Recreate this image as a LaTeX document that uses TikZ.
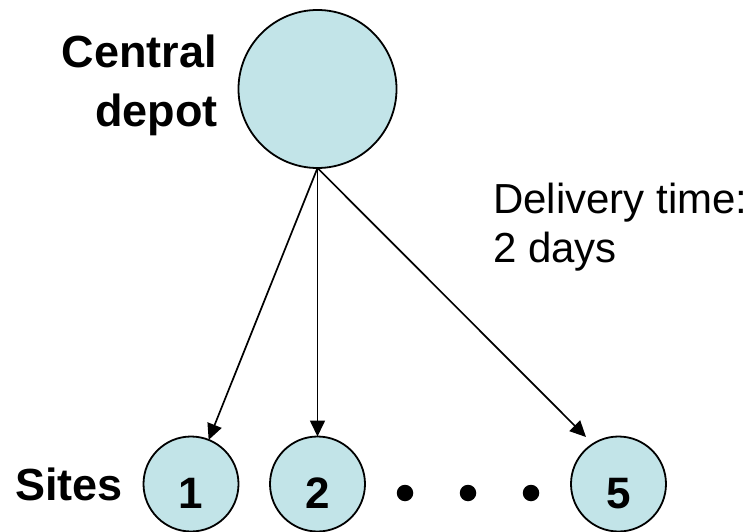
\documentclass[tikz,border=0pt]{standalone}
\usepackage{fontspec}
\setmainfont{Liberation Sans}
\usetikzlibrary{arrows.meta}
\definecolor{nodefill}{RGB}{194,228,232}
\tikzset{
  site/.style={circle,draw=black,line width=1.8pt,fill=nodefill,minimum size=95pt,inner sep=0pt,outer sep=0pt,
    font=\fontsize{44}{52}\selectfont\bfseries,text height=48pt,text depth=0pt},
  depotnode/.style={circle,draw=black,line width=1.8pt,fill=nodefill,minimum size=158pt,inner sep=0pt,outer sep=0pt},
  boldlbl/.style={font=\fontsize{45}{54}\selectfont\bfseries,inner sep=0pt},
  plainlbl/.style={font=\fontsize{42}{50}\selectfont,inner sep=0pt},
  conn/.style={line width=1.7pt,-{Triangle[length=16pt,width=15pt]}},
  dotmark/.style={circle,fill=black,minimum size=16.5pt,inner sep=0pt}
}
\begin{document}
\begin{tikzpicture}[x=1pt,y=-1pt]
\useasboundingbox (0,0) rectangle (750,532);
\node[depotnode] (depot) at (317.5,89) {};
\node[boldlbl,anchor=base east] (lblcentral) at (217,68) {Central};
\node[boldlbl,anchor=base east] (lbldepot) at (218,127) {depot};
\node[plainlbl,anchor=base west] (lbldelivery) at (493,213) {Delivery time:};
\node[plainlbl,anchor=base west] (lbldays) at (493,262) {2 days};
\node[site] (s1) at (191,484) {1};
\node[site] (s2) at (317.5,484) {2};
\node[site] (s5) at (618.5,484) {5};
\node[boldlbl,anchor=base east] (lblsites) at (123,500) {Sites};
\node[dotmark] (d1) at (405,493) {};
\node[dotmark] (d2) at (468,493) {};
\node[dotmark] (d3) at (531,493) {};
\coordinate (e5) at (586,437);
\draw[conn] (depot.south) -- (s1);
\draw[conn] (depot.south) -- (s2);
\draw[conn] (depot.south) -- (e5);
\end{tikzpicture}
\end{document}
